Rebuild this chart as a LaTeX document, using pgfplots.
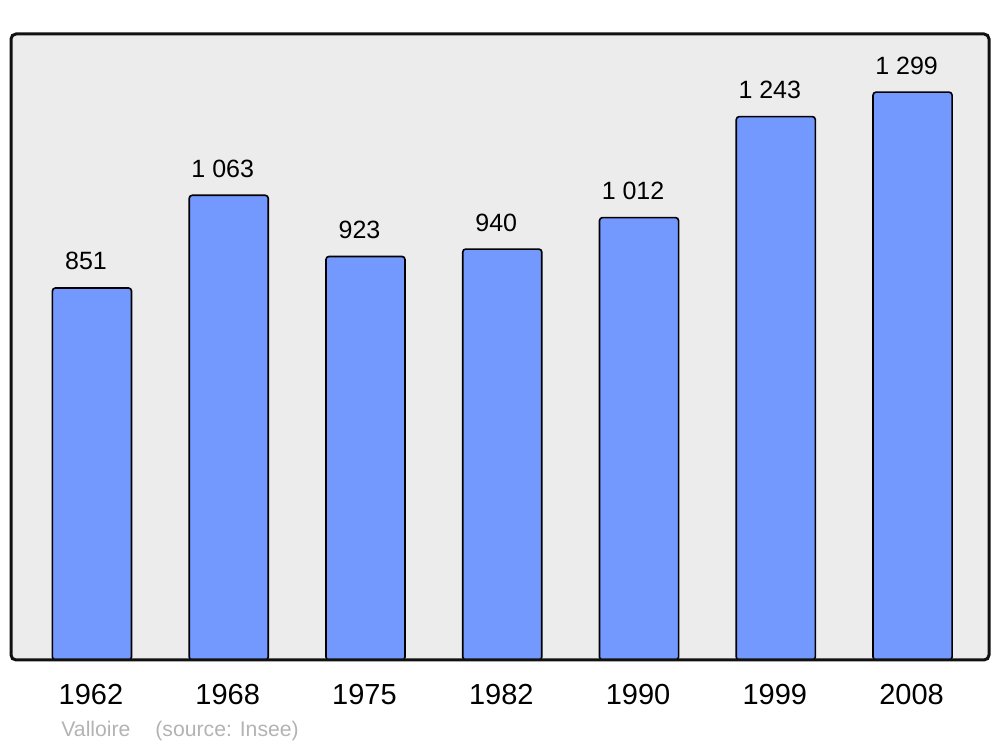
\documentclass[border=0pt]{standalone}
\usepackage{pgfplots}
\pgfplotsset{compat=1.18}
\usepackage{fontspec}
\setmainfont{Liberation Sans}
\definecolor{bgc}{HTML}{ECECEC}
\definecolor{barc}{HTML}{7399FF}
\definecolor{framec}{HTML}{111111}
\definecolor{srcc}{HTML}{B3B3B3}

\begin{document}
\begin{tikzpicture}
\useasboundingbox (-5.5pt,-43.5pt) rectangle (494.5pt,330pt);
\begin{axis}[
    at={(0pt,0pt)}, anchor=south west,
    scale only axis,
    width=489pt, height=313pt,
    xmin=-0.592, xmax=6.559,
    ymin=0, ymax=1432,
    ybar, bar width=0.578,
    xtick={0,...,6},
    xticklabels={1962,1968,1975,1982,1990,1999,2008},
    ytick=\empty,
    major tick length=0pt,
    axis line style={draw=none},
    axis background/.style={fill=bgc, rounded corners=2pt},
    xticklabel style={font=\fontsize{14.5pt}{16pt}\selectfont, anchor=base, yshift=-22.5pt, xshift=-0.5pt},
    /pgf/number format/assume math mode=true,
    /pgf/number format/1000 sep={\ },
    nodes near coords,
    every node near coord/.append style={font=\fontsize{12.5pt}{14pt}\selectfont,
        anchor=base, inner sep=0pt, yshift=9pt, xshift=-3pt, black},
    clip=false,
]
\addplot[fill=barc, draw=black, line width=0.8pt, rounded corners=1.5pt]
    coordinates {(0,851) (1,1063) (2,923) (3,940) (4,1012) (5,1243) (6,1299)};
\draw[framec, line width=1.5pt, rounded corners=2.5pt]
    (rel axis cs:0,0) rectangle (rel axis cs:1,1);
\end{axis}
\node[anchor=base west, inner sep=0pt, text=srcc, font=\fontsize{10.6pt}{12pt}\selectfont]
    at (25pt,-38.5pt) {Valloire};
\node[anchor=base west, inner sep=0pt, text=srcc, font=\fontsize{10.6pt}{12pt}\selectfont]
    at (72pt,-38.5pt) {(source: Insee)};
\end{tikzpicture}
\end{document}
